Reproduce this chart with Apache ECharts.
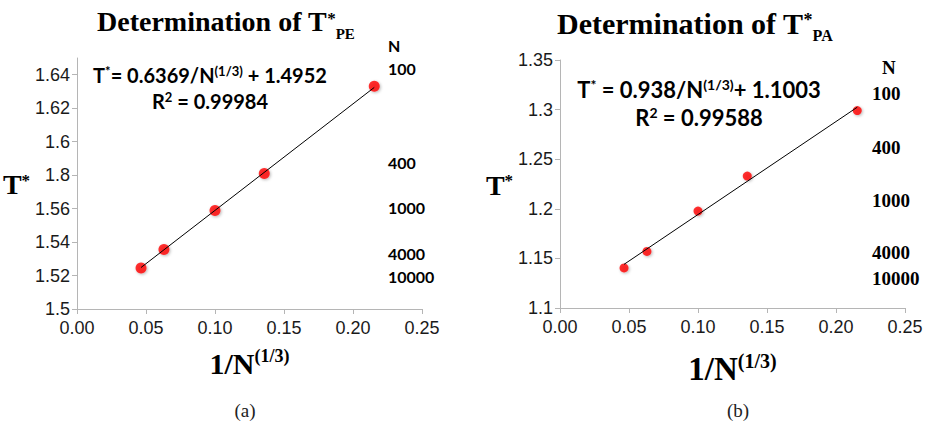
<!DOCTYPE html>
<html>
<head>
<meta charset="utf-8">
<script src="https://cdn.jsdelivr.net/npm/echarts@6/dist/echarts.min.js"></script>
<style>
  html, body { margin: 0; padding: 0; background: #fff; }
  #chart1 { width: 930px; height: 421px; }
</style>
</head>
<body>
<div id="chart1"></div>
<script>
// 1/N^(1/3) for N = 10000, 4000, 1000, 400, 100
var invCubeN = [0.0464, 0.0630, 0.1000, 0.1357, 0.2154];
var tStarPE = [1.5245, 1.5356, 1.5589, 1.5810, 1.6331];
var tStarPA = [1.1404, 1.1570, 1.1977, 1.2330, 1.2990];
// trendline end points
var trendPE = [[0.0464, 1.5248], [0.2154, 1.6324]];
var trendPA = [[0.0464, 1.1440], [0.2154, 1.3024]];
// y tick labels of panel (a) as printed (1.58 is printed as "1.8")
var peTickLabels = ['1.5', '1.52', '1.54', '1.56', '1.8', '1.6', '1.62', '1.64'];
var nLabels = ['N', '100', '400', '1000', '4000', '10000'];
var nLabelYa = [45, 68, 162, 207, 253, 276];
var nLabelYb = [67, 93, 147, 200, 252, 278];

var myChart = echarts.init(document.getElementById('chart1'), null, { renderer: 'svg' });

var axisGray = '#b5b5b5';
var tickFont = { fontFamily: 'Liberation Sans', fontSize: 18, color: '#1a1a1a' };

function pairs(xs, ys) {
    return xs.map(function (x, i) { return [x, ys[i]]; });
}

// main text + superscript, superscript top-aligned with the capitals
function supRich(family, size, supSize, pad) {
    return {
        m: { fontFamily: family, fontWeight: 'bold', fontSize: size, color: '#000', verticalAlign: 'bottom', lineHeight: size + 2 },
        s: { fontFamily: family, fontWeight: 'bold', fontSize: supSize, color: '#000', verticalAlign: 'top', lineHeight: supSize, padding: [pad, 0, 0, 0] }
    };
}

function xAxisFor(gridIndex, size, gap) {
    return {
        gridIndex: gridIndex,
        type: 'value',
        min: 0,
        max: 0.25,
        interval: 0.05,
        splitLine: { show: false },
        axisLine: { lineStyle: { color: axisGray } },
        axisTick: { show: true, length: 5, lineStyle: { color: axisGray } },
        axisLabel: Object.assign({ margin: 10, formatter: function (v) { return v.toFixed(2); } }, tickFont),
        name: '{m|1/N}{s|(1/3)}',
        nameLocation: 'middle',
        nameGap: gap,
        nameTextStyle: {
            verticalAlign: 'top',
            rich: supRich('Liberation Serif', size, Math.round(size * 0.6), 1)
        }
    };
}

function yName(gap) {
    return {
        name: '{m|T}{s|*}',
        nameLocation: 'middle',
        nameRotate: 0,
        nameGap: gap,
        nameTextStyle: { rich: supRich('Liberation Serif', 28, 17, 3) }
    };
}

var titleRich = {
    m: { fontFamily: 'Liberation Serif', fontWeight: 'bold', fontSize: 28, color: '#000', verticalAlign: 'middle', lineHeight: 40 },
    s: { fontFamily: 'Liberation Serif', fontWeight: 'bold', fontSize: 17, color: '#000', verticalAlign: 'top', lineHeight: 17, padding: [9, 0, 0, 0] },
    b: { fontFamily: 'Liberation Serif', fontWeight: 'bold', fontSize: 15, color: '#000', verticalAlign: 'bottom', lineHeight: 15 }
};
var titleRichB = {
    m: Object.assign({}, titleRich.m, { fontSize: 30 }),
    s: Object.assign({}, titleRich.s, { fontSize: 18, lineHeight: 18, padding: [8, 0, 0, 0] }),
    b: Object.assign({}, titleRich.b, { fontSize: 16, lineHeight: 16 })
};

function textEl(x, y, text, style) {
    return {
        type: 'text',
        x: x,
        y: y,
        style: Object.assign({ text: text, fill: '#000', align: 'left', verticalAlign: 'middle' }, style)
    };
}

var graphics = [];
// titles
graphics.push(textEl(97, 21, '{m|Determination of T}{s|*}{b|PE}', { rich: titleRich }));
graphics.push(textEl(557, 23, '{m|Determination of T}{s|*}{b|PA}', { rich: titleRichB }));
// fit equations
graphics.push(textEl(210, 74, '{m|T}{s|*}{m|= 0.6369/N}{s|(1/3)}{m| + 1.4952}', { align: 'center', rich: supRich('Lato', 20, 13, 1) }));
graphics.push(textEl(210, 100, '{m|R}{s|2}{m| = 0.99984}', { align: 'center', rich: supRich('Lato', 20, 13, 1) }));
graphics.push(textEl(699, 88, '{m|T}{s|*}{m| = 0.938/N}{s|(1/3)}{m|+ 1.1003}', { align: 'center', rich: supRich('Lato', 22, 14, 1) }));
graphics.push(textEl(699, 116, '{m|R}{s|2}{m| = 0.99588}', { align: 'center', rich: supRich('Lato', 22, 14, 1) }));
// N labels
nLabels.forEach(function (t, i) {
    graphics.push(textEl(388, nLabelYa[i], t, { fontFamily: 'Lato', fontWeight: 'bold', fontSize: 16 }));
    graphics.push(textEl(i === 0 ? 882 : 872, nLabelYb[i], t, { fontFamily: 'Liberation Serif', fontWeight: 'bold', fontSize: 19 }));
});
// panel captions
graphics.push(textEl(245, 410, '(a)', { align: 'center', fontFamily: 'Liberation Serif', fontSize: 19, fill: '#222' }));
graphics.push(textEl(738, 410, '(b)', { align: 'center', fontFamily: 'Liberation Serif', fontSize: 19, fill: '#222' }));

var option = {
    backgroundColor: '#fff',
    animation: false,
    grid: [
        { left: 77, top: 58, width: 345, height: 251 },
        { left: 560, top: 60, width: 345, height: 248 }
    ],
    xAxis: [xAxisFor(0, 30, 37), xAxisFor(1, 33, 42)],
    yAxis: [
        Object.assign({
            gridIndex: 0,
            type: 'value',
            min: 1.5,
            max: 1.65,
            interval: 0.02,
            splitLine: { show: false },
            axisLine: { show: true, lineStyle: { color: axisGray } },
            axisTick: { show: true, length: 5, lineStyle: { color: axisGray } },
            axisLabel: Object.assign({
                margin: 7,
                showMaxLabel: false,
                formatter: function (v) {
                    var i = Math.round((v - 1.5) / 0.02);
                    return Math.abs(v - 1.5 - i * 0.02) < 1e-6 && peTickLabels[i] ? peTickLabels[i] : '';
                }
            }, tickFont)
        }, yName(33)),
        Object.assign({
            gridIndex: 1,
            type: 'value',
            min: 1.1,
            max: 1.35,
            interval: 0.05,
            splitLine: { show: false },
            axisLine: { show: true, lineStyle: { color: axisGray } },
            axisTick: { show: true, length: 5, lineStyle: { color: axisGray } },
            axisLabel: Object.assign({ margin: 7 }, tickFont)
        }, yName(46))
    ],
    series: [
        {
            type: 'scatter',
            xAxisIndex: 0,
            yAxisIndex: 0,
            symbolSize: 11,
            itemStyle: { color: '#ff0000', shadowBlur: 3, shadowColor: 'rgba(0,0,0,0.35)', shadowOffsetX: 1, shadowOffsetY: 1 },
            data: pairs(invCubeN, tStarPE),
            z: 2
        },
        {
            type: 'line',
            xAxisIndex: 0,
            yAxisIndex: 0,
            symbol: 'none',
            lineStyle: { color: '#000', width: 1 },
            data: trendPE,
            z: 3
        },
        {
            type: 'scatter',
            xAxisIndex: 1,
            yAxisIndex: 1,
            symbolSize: 9,
            itemStyle: { color: '#ff0000', shadowBlur: 3, shadowColor: 'rgba(0,0,0,0.35)', shadowOffsetX: 1, shadowOffsetY: 1 },
            data: pairs(invCubeN, tStarPA),
            z: 2
        },
        {
            type: 'line',
            xAxisIndex: 1,
            yAxisIndex: 1,
            symbol: 'none',
            lineStyle: { color: '#000', width: 1 },
            data: trendPA,
            z: 3
        }
    ],
    graphic: graphics
};

myChart.setOption(option);
window.onresize = myChart.resize;
</script>
</body>
</html>
